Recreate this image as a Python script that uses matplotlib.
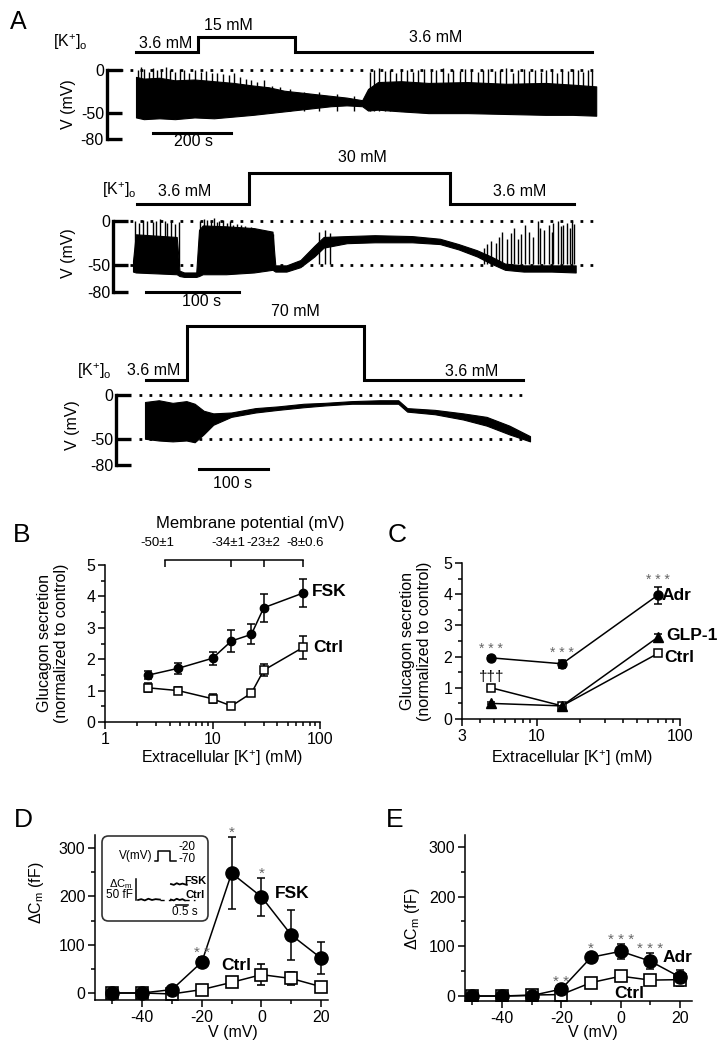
import matplotlib
matplotlib.use("Agg")
import matplotlib.pyplot as plt
import matplotlib.transforms as mtransforms
from matplotlib.patches import FancyBboxPatch
from matplotlib.ticker import FixedLocator, FixedFormatter, MultipleLocator, NullFormatter

plt.rcParams["font.family"] = ["Liberation Sans", "DejaVu Sans"]
plt.rcParams["font.size"] = 11.5
plt.rcParams["axes.unicode_minus"] = False
plt.rcParams["mathtext.fontset"] = "custom"
plt.rcParams["mathtext.rm"] = "Liberation Sans"
plt.rcParams["mathtext.it"] = "Liberation Sans:italic"
plt.rcParams["mathtext.bf"] = "Liberation Sans:bold"

# ---------------- data ----------------
# panel A, [K+]o protocol (time s, concentration mM)
k1_t = [0, 159, 408, 1169]
k1_c = [3.6, 15, 3.6, 3.6]
k2_t = [4, 125, 341, 474]
k2_c = [3.6, 30, 3.6, 3.6]
k3_t = [1.4, 61, 317, 548]
k3_c = [3.6, 70, 3.6, 3.6]

# panel A, membrane potential envelopes (s, mV)
tr1_t = [0, 20, 60, 100, 150, 200, 250, 300, 340, 380, 420, 460, 500, 540, 580,
         595, 620, 680, 750, 850, 950, 1050, 1120, 1180]
tr1_low = [-55, -57, -56, -57, -55, -56, -54, -52, -50, -48, -46, -44, -42, -41, -42,
           -47, -46, -48, -50, -50, -51, -52, -52, -53]
tr1_high = [-8, -10, -9, -12, -11, -13, -15, -18, -20, -24, -26, -28, -30, -32, -35,
            -22, -14, -13, -15, -14, -16, -15, -17, -19]
tr1_spikes = [(4, 0), (12, 3), (21, 1), (33, -2), (44, 2), (55, 0), (63, -1), (77, 3),
              (88, 0), (101, -2), (114, 1), (124, 0), (137, -3), (150, 0), (166, -2),
              (180, -1), (194, -4), (208, -3), (224, -5), (238, -6), (252, -4), (266, -8),
              (281, -10), (296, -12), (311, -14), (329, -12), (348, -18), (370, -20),
              (395, -22), (430, -25), (470, -26), (515, -28), (560, -30),
              (600, -2), (611, 0), (624, 2), (638, -1), (651, 0), (666, -3), (679, 1),
              (694, 0), (710, -2), (724, 0), (739, 1), (756, -1), (769, 0), (786, 2),
              (799, -4), (813, 0), (830, -1), (844, 1), (859, 0), (876, -2), (889, 0),
              (903, 1), (920, -1), (934, 0), (949, 2), (966, -3), (979, 0), (994, 1),
              (1008, -1), (1023, 0), (1038, -2), (1051, 0), (1066, 1), (1079, -3),
              (1093, 0), (1108, -1), (1121, 1), (1134, 0), (1146, -2), (1158, 0), (1168, -1)]

tr2_t = [0, 3, 47, 50, 55, 68, 71, 75, 100, 130, 150, 153, 165, 180, 195, 205, 230,
         260, 300, 330, 350, 370, 385, 400, 420, 450, 476]
tr2_low = [-57, -58, -60, -62, -63, -63, -62, -60, -60, -58, -55, -57, -57, -52, -40,
           -30, -25, -24, -24, -26, -32, -40, -48, -55, -57, -57, -58]
tr2_high = [-45, -15, -18, -56, -58, -58, -10, -5, -6, -8, -12, -50, -50, -44, -28,
            -18, -17, -16, -17, -20, -26, -33, -40, -48, -50, -50, -50]
tr2_spikes = [(2, 0), (6, -2), (11, 1), (15, 0), (21, -1), (25, 0), (29, 2), (34, 0),
              (37, -2), (41, 0), (45, -3), (49, -1), (72, 0), (76, 2), (80, 1), (84, 0),
              (87, 3), (90, -1), (93, 0), (97, 1), (101, -2), (104, 0), (108, -4),
              (112, -3), (116, -5), (120, -6), (123, -8), (127, -7), (131, -10),
              (134, -10), (138, -12), (142, -12), (146, -14), (150, -15),
              (200, -12), (206, -10), (212, -14),
              (377, -30), (381, -26), (385, -22), (390, -25), (394, -18), (397, -12),
              (402, -20), (406, -14), (410, -8), (414, -20), (417, -15), (422, -5),
              (426, -12), (430, -18), (435, 0), (438, -8), (442, -10), (447, -5),
              (450, -12), (452, -2), (457, 0), (460, -6), (462, -4), (467, -2),
              (470, -8), (472, 0), (474, -3)]

tr3_t = [0, 20, 40, 60, 72, 85, 99, 125, 160, 193, 230, 260, 300, 340, 367, 380, 420,
         461, 495, 528, 558]
tr3_low = [-50, -52, -53, -52, -54, -45, -34, -25, -20, -17, -14, -12, -10, -10, -10,
           -19, -22, -28, -35, -45, -53]
tr3_high = [-8, -6, -9, -7, -10, -18, -21, -20, -15, -13, -10, -9, -7, -6, -6, -15,
            -17, -21, -25, -35, -47]

# panel B
b_k = [2.5, 4.8, 10, 15, 23, 30, 70]
b_fsk = [1.49, 1.71, 2.03, 2.58, 2.79, 3.64, 4.11]
b_fsk_err = [0.13, 0.18, 0.2, 0.35, 0.32, 0.44, 0.44]
b_ctrl = [1.09, 1.0, 0.74, 0.51, 0.92, 1.65, 2.38]
b_ctrl_err = [0.14, 0.1, 0.15, 0.04, 0.1, 0.2, 0.36]
mp_k = [3.6, 15, 30, 70]
mp_labels = ["-50±1", "-34±1", "-23±2", "-8±0.6"]

# panel C
c_k = [4.8, 15, 70]
c_adr = [1.96, 1.77, 3.97]
c_adr_err = [0.05, 0.12, 0.27]
c_glp = [0.5, 0.42, 2.62]
c_glp_err = [0.03, 0.05, 0.1]
c_ctrl = [1.0, 0.42, 2.1]
c_ctrl_err = [0.03, 0.05, 0.08]

# panels D and E
v_steps = [-50, -40, -30, -20, -10, 0, 10, 20]
d_fsk = [0, 0, 7, 64, 248, 199, 120, 72]
d_fsk_err = [3, 3, 5, 10, 75, 40, 52, 33]
d_ctrl = [0, 0, -2, 7, 22, 38, 30, 13]
d_ctrl_err = [2, 2, 2, 4, 8, 22, 14, 6]
d_stars = [(-20, "* *"), (-10, "*"), (0, "*")]
e_adr = [0, 0, 1, 14, 78, 90, 70, 38]
e_adr_err = [2, 2, 2, 5, 8, 15, 16, 14]
e_ctrl = [0, 0, 2, 3, 27, 40, 32, 33]
e_ctrl_err = [2, 2, 2, 3, 5, 6, 10, 12]
e_stars = [(-20, "* *"), (-10, "*"), (0, "* * *"), (10, "* * *")]

# inset of D (s relative to pulse onset; mV; fF)
pulse_t = [-0.125, 0, 0.5, 0.75]
pulse_v = [-70, -20, -70, -70]
cm_pre_t = [-0.83, -0.7, -0.55, -0.4, -0.25, -0.1, 0.08]
cm_pre = [0, 2, -1, 3, 0, 2, 1]
cm_ctrl_t = [0.54, 0.66, 0.78, 0.9, 1.02, 1.12]
cm_ctrl = [1, -1, 3, 0, 2, -1]
cm_fsk_t = [0.54, 0.66, 0.78, 0.9, 1.02, 1.2]
cm_fsk = [38, 36, 40, 37, 39, 36]

# ---------------- layout helpers ----------------
W, H = 719, 1048
fig = plt.figure(figsize=(W / 100, H / 100), dpi=100)


def px_axes(x0, y0, x1, y1):
    ax = fig.add_axes([x0 / W, 1 - y1 / H, (x1 - x0) / W, (y1 - y0) / H])
    ax.patch.set_alpha(0)
    return ax


def scaled_axes(x_ref, x_val, x_scale, xlim, y_ref, y_val, y_scale, ylim):
    x0 = x_ref + (xlim[0] - x_val) * x_scale
    x1 = x_ref + (xlim[1] - x_val) * x_scale
    y0 = y_ref - (ylim[1] - y_val) * y_scale
    y1 = y_ref - (ylim[0] - y_val) * y_scale
    ax = px_axes(x0, y0, x1, y1)
    ax.set_xlim(xlim)
    ax.set_ylim(ylim)
    return ax


def ftext(x, y, s, **kw):
    kw.setdefault("ha", "center")
    kw.setdefault("va", "center")
    fig.text(x / W, 1 - y / H, s, **kw)


def bare(ax):
    for s in ax.spines.values():
        s.set_visible(False)
    ax.set_xticks([])
    ax.set_yticks([])


# ---------------- panel A ----------------
ftext(18, 22, "A", fontsize=18)
kk = "[K$^{+}$]$_{\\mathrm{o}}$"

trace_cfg = [
    dict(x_ref=136, s=0.39, xlim=(-75, 1190), y_ref=70, v=0.8625, ylim=(-85, 12),
         k_ref=52, k_s=1.316, k_lim=(0, 28), dots=[0], dot_span=(-41, 1180),
         bar=(44, 244, -73)),
    dict(x_ref=133, s=0.93, xlim=(-21.5, 497), y_ref=221, v=0.8875, ylim=(-85, 10),
         k_ref=204, k_s=1.174, k_lim=(0, 40), dots=[0, -50], dot_span=(-3, 495),
         bar=(14, 114, -80)),
    dict(x_ref=145, s=0.69, xlim=(-42, 560), y_ref=395, v=0.875, ylim=(-90, 10),
         k_ref=380, k_s=0.813, k_lim=(0, 80), dots=[0, -50], dot_span=(-9, 555),
         bar=(78, 178, -85)),
]
k_steps = [(k1_t, k1_c), (k2_t, k2_c), (k3_t, k3_c)]
envelopes = [(tr1_t, tr1_low, tr1_high), (tr2_t, tr2_low, tr2_high), (tr3_t, tr3_low, tr3_high)]
spike_sets = [tr1_spikes, tr2_spikes, []]

for cfg, (kt, kc), (tt, lo, hi), spikes in zip(trace_cfg, k_steps, envelopes, spike_sets):
    axk = scaled_axes(cfg["x_ref"], 0, cfg["s"], cfg["xlim"], cfg["k_ref"], 3.6,
                      cfg["k_s"], cfg["k_lim"])
    bare(axk)
    axk.plot(kt, kc, drawstyle="steps-post", color="k", lw=2.2, solid_joinstyle="miter")

    ax = scaled_axes(cfg["x_ref"], 0, cfg["s"], cfg["xlim"], cfg["y_ref"], 0,
                     cfg["v"], cfg["ylim"])
    for side in ["top", "right", "bottom"]:
        ax.spines[side].set_visible(False)
    ax.spines["left"].set_linewidth(2.4)
    ax.spines["left"].set_bounds(-80, 0)
    ax.set_xticks([])
    ax.set_yticks([0, -50, -80])
    ax.tick_params(axis="y", direction="in", length=11, width=2.4, pad=2, labelsize=11.5)
    ax.fill_between(tt, lo, hi, color="k", lw=0.8)
    if spikes:
        st = [p[0] for p in spikes]
        sv = [p[1] for p in spikes]
        ax.vlines(st, -48, sv, color="k", lw=1.0)
    for lev in cfg["dots"]:
        ax.plot(cfg["dot_span"], [lev, lev], color="k", lw=2, ls=(0, (1, 2.6)))
    b0, b1, blev = cfg["bar"]
    ax.plot([b0, b1], [blev, blev], color="k", lw=2.2, clip_on=False)

# texts of panel A
ftext(70, 42, kk)
ftext(166, 43, "3.6 mM")
ftext(228, 25, "15 mM")
ftext(436, 37, "3.6 mM")
ftext(194, 142, "200 s")
ftext(68, 104, "V (mV)", rotation=90)

ftext(119, 190, kk)
ftext(362, 158, "30 mM")
ftext(185, 192, "3.6 mM")
ftext(520, 192, "3.6 mM")
ftext(202, 302, "100 s")
ftext(69, 253, "V (mV)", rotation=90)

ftext(94, 371, kk)
ftext(295, 312, "70 mM")
ftext(154, 371, "3.6 mM")
ftext(472, 372, "3.6 mM")
ftext(233, 483, "100 s")
ftext(72, 425, "V (mV)", rotation=90)


# ---------------- panels B-E ----------------
def style(ax):
    for side in ["top", "right"]:
        ax.spines[side].set_visible(False)
    for side in ["left", "bottom"]:
        ax.spines[side].set_linewidth(1.1)
    ax.tick_params(which="both", direction="out", width=1.1)
    ax.tick_params(which="major", length=5, labelsize=11.5, pad=2)
    ax.tick_params(which="minor", length=3)


def log_ticks(ax, major, minor):
    ax.xaxis.set_major_locator(FixedLocator(major))
    ax.xaxis.set_major_formatter(FixedFormatter([str(m) for m in major]))
    ax.xaxis.set_minor_locator(FixedLocator(minor))
    ax.xaxis.set_minor_formatter(NullFormatter())


ebkw = dict(color="k", lw=1.1, elinewidth=1.1, capthick=1.1)

# B
axb = px_axes(105, 565, 320, 722)
style(axb)
axb.set_xscale("log")
axb.set_xlim(1, 100)
axb.set_ylim(0, 5)
log_ticks(axb, [1, 10, 100], [2, 3, 4, 5, 6, 7, 8, 9, 20, 30, 40, 50, 60, 70, 80, 90])
axb.yaxis.set_major_locator(MultipleLocator(1))
axb.yaxis.set_minor_locator(MultipleLocator(0.5))
axb.errorbar(b_k, b_ctrl, yerr=b_ctrl_err, fmt="-s", ms=5.5, mfc="white", mec="k",
             mew=1.1, capsize=3, **ebkw)
axb.errorbar(b_k, b_fsk, yerr=b_fsk_err, fmt="-o", ms=6, mfc="k", mec="k",
             capsize=3, **ebkw)
tb = mtransforms.blended_transform_factory(axb.transData, axb.transAxes)
axb.plot([mp_k[0], mp_k[-1]], [1.032, 1.032], color="k", lw=1.1, transform=tb, clip_on=False)
axb.vlines(mp_k, 0.985, 1.032, color="k", lw=1.1, transform=tb, clip_on=False)
for xpx, lab in zip([157, 228, 263, 305], mp_labels):
    ftext(xpx, 543, lab, fontsize=9.5)
ftext(250, 523, "Membrane potential (mV)", fontsize=12)
ftext(22, 535, "B", fontsize=19)
ftext(312, 591, "FSK", ha="left", fontweight="bold", fontsize=12.5)
ftext(313, 647, "Ctrl", ha="left", fontweight="bold", fontsize=12.5)
ftext(222, 758, "Extracellular [K$^{+}$] (mM)")
ftext(53, 643, "Glucagon secretion\n(normalized to control)", rotation=90)

# C
axc = px_axes(462, 563, 680, 719)
style(axc)
axc.set_xscale("log")
axc.set_xlim(3, 100)
axc.set_ylim(0, 5)
log_ticks(axc, [3, 10, 100], [4, 5, 6, 7, 8, 9, 20, 30, 40, 50, 60, 70, 80, 90])
axc.yaxis.set_major_locator(MultipleLocator(1))
axc.yaxis.set_minor_locator(MultipleLocator(0.5))
axc.errorbar(c_k, c_ctrl, yerr=c_ctrl_err, fmt="-s", ms=5.5, mfc="white", mec="k",
             mew=1.1, capsize=3, **ebkw)
axc.errorbar(c_k, c_glp, yerr=c_glp_err, fmt="-^", ms=6.5, mfc="k", mec="k",
             capsize=3, **ebkw)
axc.errorbar(c_k, c_adr, yerr=c_adr_err, fmt="-o", ms=6.5, mfc="k", mec="k",
             capsize=3, **ebkw)
for k, y, e in zip(c_k, c_adr, c_adr_err):
    axc.annotate("* * *", xy=(k, y + e), xytext=(0, 0), textcoords="offset points",
                 ha="center", va="bottom", fontsize=10, color="#666666")
axc.annotate("†††", xy=(c_k[0], c_ctrl[0]), xytext=(0, 3), textcoords="offset points",
             ha="center", va="bottom", fontsize=11)
ftext(397, 535, "C", fontsize=19)
ftext(662, 595, "Adr", ha="left", fontweight="bold", fontsize=12.5)
ftext(666, 635, "GLP-1", ha="left", fontweight="bold", fontsize=12.5)
ftext(664, 657, "Ctrl", ha="left", fontweight="bold", fontsize=12.5)
ftext(572, 758, "Extracellular [K$^{+}$] (mM)")
ftext(416, 641, "Glucagon secretion\n(normalized to control)", rotation=90)


def cap_axes(ax, xlim, ylim):
    style(ax)
    ax.set_xlim(xlim)
    ax.set_ylim(ylim)
    ax.xaxis.set_major_locator(FixedLocator([-40, -20, 0, 20]))
    ax.xaxis.set_minor_locator(FixedLocator([-50, -30, -10, 10]))
    ax.yaxis.set_major_locator(FixedLocator([0, 100, 200, 300]))
    ax.yaxis.set_minor_locator(FixedLocator([50, 150, 250]))


# D
axd = px_axes(95, 835, 328, 1000)
cap_axes(axd, (-55.8, 22.3), (-14.5, 327))
axd.errorbar(v_steps, d_ctrl, yerr=d_ctrl_err, fmt="-s", ms=9, mfc="white", mec="k",
             mew=1.2, capsize=3, **ebkw)
axd.errorbar(v_steps, d_fsk, yerr=d_fsk_err, fmt="-o", ms=9.5, mfc="k", mec="k",
             capsize=3, **ebkw)
for v, s in d_stars:
    i = v_steps.index(v)
    axd.annotate(s, xy=(v, d_fsk[i] + d_fsk_err[i]), xytext=(0, -2),
                 textcoords="offset points", ha="center", va="bottom", fontsize=11,
                 color="#666666", annotation_clip=False)
ftext(23, 820, "D", fontsize=19)
ftext(275, 893, "FSK", ha="left", fontweight="bold", fontsize=12.5)
ftext(221, 965, "Ctrl", ha="left", fontweight="bold", fontsize=12.5)
ftext(233, 1032, "V (mV)")
ftext(37, 893, "ΔC$_{\\mathrm{m}}$ (fF)", rotation=90)

# inset of D
box = FancyBboxPatch((102 / W, 1 - 921 / H), 106 / W, 85 / H,
                     boxstyle="round,pad=0,rounding_size=0.009",
                     mutation_aspect=W / H, transform=fig.transFigure,
                     fill=True, fc="white", ec="#333333", lw=1.2, zorder=5)
fig.patches.append(box)
axiv = scaled_axes(158, 0, 24, (-2.33, 2.08), 861, -70, 0.2, (-370, 55))
bare(axiv)
axiv.set_zorder(6)
axiv.plot(pulse_t, pulse_v, drawstyle="steps-post", color="k", lw=1.1)
axic = scaled_axes(158, 0, 24, (-2.33, 2.08), 900, 0, 0.42, (-50, 152))
bare(axic)
axic.set_zorder(6)
axic.plot(cm_pre_t, cm_pre, color="k", lw=1.3)
axic.plot(cm_ctrl_t, cm_ctrl, color="k", lw=1.3)
axic.plot(cm_fsk_t, cm_fsk, color="k", lw=1.3)
axic.plot([cm_pre_t[-1], cm_ctrl_t[0]], [0, 0], color="k", lw=1, ls=(0, (3, 3)))
axic.plot([cm_ctrl_t[-1], 1.54], [0, 0], color="k", lw=1, ls=(0, (3, 3)))
axic.plot([-0.92, -0.92], [0, 50], color="k", lw=1.1)
axic.plot([0.75, 1.25], [-12, -12], color="k", lw=1.1)
itx = dict(zorder=7, fontsize=8.5)
ftext(136, 856, "V(mV)", **itx)
ftext(187, 847, "-20", **itx)
ftext(187, 859, "-70", **itx)
ftext(121, 884, "ΔC$_{\\mathrm{m}}$", zorder=7, fontsize=8)
ftext(120, 895, "50 fF", **itx)
ftext(195, 881, "FSK", fontweight="bold", zorder=7, fontsize=8)
ftext(195, 895, "Ctrl", fontweight="bold", zorder=7, fontsize=8)
ftext(185, 912, "0.5 s", **itx)

# E
axe = px_axes(465, 835, 692, 1001)
cap_axes(axe, (-52.5, 24), (-10, 324))
axe.errorbar(v_steps, e_ctrl, yerr=e_ctrl_err, fmt="-s", ms=9, mfc="white", mec="k",
             mew=1.2, capsize=3, **ebkw)
axe.errorbar(v_steps, e_adr, yerr=e_adr_err, fmt="-o", ms=9.5, mfc="k", mec="k",
             capsize=3, **ebkw)
for v, s in e_stars:
    i = v_steps.index(v)
    axe.annotate(s, xy=(v, e_adr[i] + e_adr_err[i]), xytext=(0, -2),
                 textcoords="offset points", ha="center", va="bottom", fontsize=11,
                 color="#666666", annotation_clip=False)
ftext(395, 820, "E", fontsize=19)
ftext(663, 957, "Adr", ha="left", fontweight="bold", fontsize=12.5)
ftext(614, 993, "Ctrl", ha="left", fontweight="bold", fontsize=12.5)
ftext(593, 1032, "V (mV)")
ftext(413, 919, "ΔC$_{\\mathrm{m}}$ (fF)", rotation=90)

fig.savefig("out.png", dpi=100)
